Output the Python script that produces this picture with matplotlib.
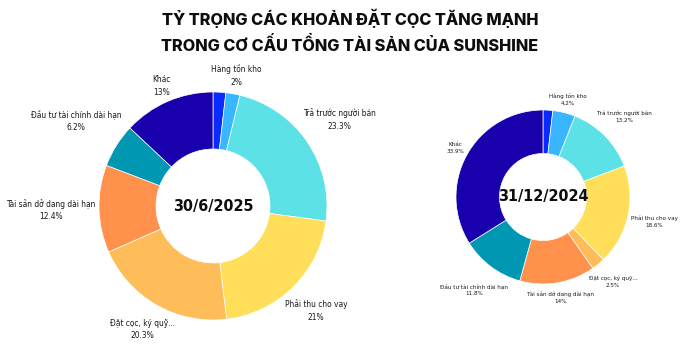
import matplotlib
matplotlib.use("Agg")
import matplotlib.pyplot as plt
import numpy as np

# Chart text
title_lines = [
    "TỶ TRỌNG CÁC KHOẢN ĐẶT CỌC TĂNG MẠNH",
    "TRONG CƠ CẤU TỔNG TÀI SẢN CỦA SUNSHINE",
]
categories = [
    "Tiền và tương đương tiền",
    "Hàng tồn kho",
    "Trả trước người bán",
    "Phải thu cho vay",
    "Đặt cọc, ký quỹ...",
    "Tài sản dở dang dài hạn",
    "Đầu tư tài chính dài hạn",
    "Khác",
]
show_label = [False, True, True, True, True, True, True, True]
period_2025 = "30/6/2025"
period_2024 = "31/12/2024"
share_2025 = [1.8, 2, 23.3, 21, 20.3, 12.4, 6.2, 13]
share_2024 = [1.8, 4.2, 13.2, 18.6, 2.5, 14, 11.8, 33.9]
slice_colors = ["#0A2BFF", "#38B6FF", "#5CE1E6", "#FFDE59",
                "#FFBD59", "#FF914D", "#0097B2", "#1800AD"]

NARROW = dict(family="DejaVu Sans", stretch="condensed")

fig = plt.figure(figsize=(7, 3.5), dpi=100)
ax = fig.add_axes([0, 0, 1, 1])
ax.axis("off")

for i, line in enumerate(title_lines):
    fig.text(0.5, 0.948 - i * 0.075, line, ha="center", va="center",
             fontsize=11.7, fontweight="heavy", family=["Inter", "DejaVu Sans"],
             color="#0d0d0d")


def donut(values, center, radius, period, label_size, center_size, gap):
    wedges, _ = ax.pie(values, colors=slice_colors, startangle=90,
                       counterclock=False, center=center, radius=radius,
                       wedgeprops=dict(width=radius * 0.5, edgecolor="white",
                                       linewidth=0.5))
    ax.text(center[0], center[1], period, ha="center", va="center",
            fontsize=center_size, fontweight="bold", color="#0d0d0d",
            **NARROW)
    labels = []
    for w, v, name, show in zip(wedges, values, categories, show_label):
        if not show:
            continue
        ang = np.deg2rad((w.theta1 + w.theta2) / 2)
        t = ax.text(0, 0, f"{name}\n{v:g}%", ha="center", va="center",
                    fontsize=label_size, color="#1a1a1a",
                    linespacing=1.5, **NARROW)
        labels.append((t, ang))
    return labels, center, radius, gap


pending = [
    donut(share_2025, (213, 144), 114, period_2025, 6.0, 11.5, 3),
    donut(share_2024, (543, 153), 87, period_2024, 4.5, 11.5, 3),
]

# pie() resets the view, so fix the pixel-sized data window afterwards
ax.set_xlim(0, 700)
ax.set_ylim(0, 350)
ax.set_aspect("equal")

fig.canvas.draw()
renderer = fig.canvas.get_renderer()
for labels, (cx, cy), r, gap in pending:
    for t, ang in labels:
        bb = t.get_window_extent(renderer)
        c, s = np.cos(ang), np.sin(ang)
        ext = abs(c) * bb.width / 2 + abs(s) * bb.height / 2
        d = r + gap + ext
        t.set_position((cx + d * c, cy + d * s))

fig.savefig("out.png", dpi=100, facecolor="white")
